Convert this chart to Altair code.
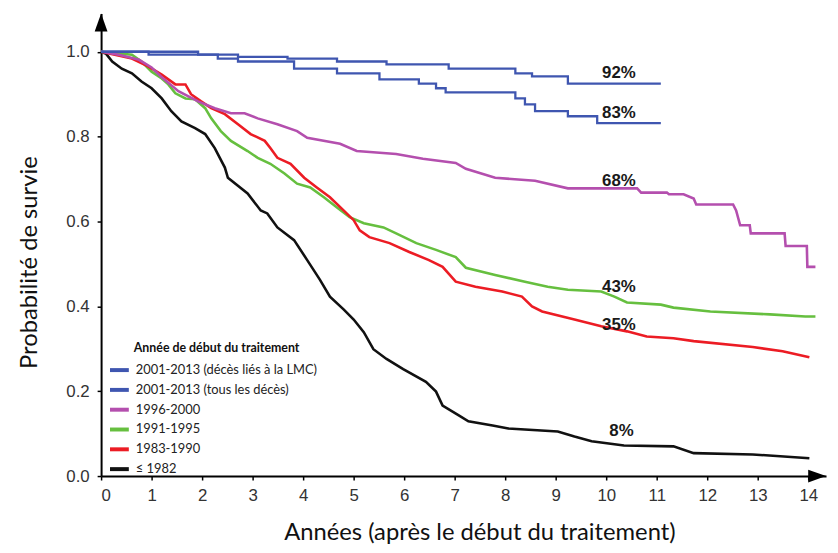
import altair as alt
import pandas as pd

# ---------------- data ----------------
series_names = ["2001-2013 (décès liés à la LMC)", "2001-2013 (tous les décès)",
                "1996-2000", "1991-1995", "1983-1990", "≤ 1982"]
series_colors = ["#3f56b0", "#3f56b0", "#b44fae", "#66bf3f", "#ec1c24", "#111111"]

lmc_years = [0, 1.92, 2.71, 3.69, 4.67, 5.65, 6.88, 8.20, 8.53, 9.24, 11.08]
lmc_surv = [1.000, 0.993, 0.988, 0.984, 0.977, 0.970, 0.960, 0.949, 0.942, 0.925, 0.925]

all_years = [0, 0.94, 2.31, 2.71, 3.82, 4.67, 5.51, 6.29, 6.63, 6.82, 8.20, 8.39, 8.59, 9.24, 9.82, 11.08]
all_surv = [1.000, 0.993, 0.984, 0.977, 0.960, 0.949, 0.935, 0.925, 0.914, 0.904, 0.890, 0.876, 0.860, 0.848, 0.832, 0.832]

p96_years = [0, 0.35, 0.75, 1.00, 1.20, 1.53, 1.92, 2.25, 2.57, 2.84, 3.10, 3.49, 3.88, 4.08, 4.73, 5.06,
             5.84, 6.37, 7.02, 7.22, 7.80, 8.59, 9.24, 10.61, 10.69, 11.20, 11.24, 11.53, 11.73, 11.78,
             12.51, 12.57, 12.65, 12.84, 12.86, 13.53, 13.55, 13.97, 13.98, 14.14]
p96_surv = [1.000, 0.993, 0.981, 0.963, 0.940, 0.907, 0.883, 0.867, 0.855, 0.855, 0.843, 0.829, 0.813, 0.797,
            0.783, 0.766, 0.759, 0.748, 0.738, 0.724, 0.703, 0.696, 0.678, 0.678, 0.668, 0.668, 0.664, 0.664,
            0.654, 0.640, 0.640, 0.626, 0.591, 0.591, 0.572, 0.572, 0.542, 0.542, 0.493, 0.493]

p91_years = [0, 0.61, 0.80, 1.00, 1.20, 1.33, 1.47, 1.67, 1.86, 2.06, 2.18, 2.37, 2.57, 2.90, 3.10, 3.35,
             3.63, 3.88, 4.14, 4.41, 4.67, 4.92, 5.20, 5.59, 5.84, 6.24, 6.63, 7.02, 7.22, 7.80, 8.39,
             8.84, 9.24, 9.90, 10.16, 10.41, 11.08, 11.33, 12.06, 13.24, 13.94, 14.14]
p91_surv = [1.000, 0.993, 0.977, 0.953, 0.937, 0.923, 0.902, 0.890, 0.888, 0.867, 0.843, 0.813, 0.790, 0.766,
            0.750, 0.736, 0.713, 0.689, 0.680, 0.657, 0.633, 0.610, 0.596, 0.586, 0.572, 0.549, 0.533, 0.516,
            0.491, 0.474, 0.458, 0.446, 0.439, 0.435, 0.423, 0.409, 0.404, 0.397, 0.388, 0.381, 0.376, 0.376]

p83_years = [0, 0.61, 0.94, 1.20, 1.47, 1.67, 1.78, 1.98, 2.18, 2.45, 2.71, 2.96, 3.24, 3.35, 3.49, 3.75,
             4.02, 4.27, 4.53, 4.80, 5.00, 5.12, 5.31, 5.71, 6.10, 6.49, 6.76, 7.02, 7.41, 7.94, 8.33,
             8.53, 8.73, 9.37, 9.90, 10.41, 10.80, 11.33, 11.73, 12.90, 13.49, 14.02]
p83_surv = [1.000, 0.984, 0.965, 0.946, 0.923, 0.923, 0.900, 0.883, 0.867, 0.853, 0.829, 0.806, 0.790, 0.773,
            0.750, 0.736, 0.703, 0.680, 0.657, 0.626, 0.603, 0.579, 0.563, 0.549, 0.528, 0.509, 0.493, 0.458,
            0.446, 0.435, 0.423, 0.400, 0.388, 0.369, 0.353, 0.341, 0.329, 0.325, 0.318, 0.304, 0.294, 0.280]

p82_years = [0, 0.10, 0.22, 0.41, 0.61, 0.80, 1.00, 1.20, 1.39, 1.59, 1.86, 2.06, 2.25, 2.45, 2.51, 2.90,
             3.16, 3.29, 3.49, 3.82, 4.08, 4.33, 4.53, 4.80, 5.00, 5.20, 5.39, 5.65, 5.98, 6.43, 6.63, 6.76,
             7.08, 7.27, 7.75, 8.06, 9.04, 9.37, 9.71, 10.35, 11.33, 11.73, 12.90, 14.02]
p82_surv = [1.000, 0.995, 0.977, 0.960, 0.949, 0.930, 0.914, 0.890, 0.860, 0.836, 0.820, 0.806, 0.773, 0.727,
            0.703, 0.666, 0.626, 0.619, 0.586, 0.556, 0.509, 0.463, 0.423, 0.393, 0.369, 0.339, 0.299, 0.276,
            0.252, 0.222, 0.199, 0.166, 0.143, 0.129, 0.119, 0.112, 0.105, 0.093, 0.082, 0.072, 0.070, 0.054,
            0.051, 0.042]

pct_labels = ["92%", "83%", "68%", "43%", "35%", "8%"]
pct_years = [10.25, 10.25, 10.25, 10.25, 10.25, 10.3]
pct_surv = [0.949, 0.855, 0.696, 0.446, 0.357, 0.105]

x_ticks = list(range(0, 15))
y_ticks = [0.0, 0.2, 0.4, 0.6, 0.8, 1.0]
x_max = 14.35
y_max = 1.09

# ---------------- tables ----------------
step_series = [(series_names[0], lmc_years, lmc_surv),
               (series_names[1], all_years, all_surv)]
lin_series = [(series_names[5], p82_years, p82_surv),
              (series_names[3], p91_years, p91_surv),
              (series_names[4], p83_years, p83_surv),
              (series_names[2], p96_years, p96_surv)]


def build(lst):
    rows = []
    for name, xs, ys in lst:
        for i, (a, b) in enumerate(zip(xs, ys)):
            rows.append({"serie": name, "annee": a, "survie": b, "ordre": i})
    return pd.DataFrame(rows)


df_step = build(step_series)
df_lin = build(lin_series)
df_pct = pd.DataFrame({"label": pct_labels, "annee": pct_years, "survie": pct_surv})
df_arrow_y = pd.DataFrame({"annee": [0], "survie": [y_max]})
df_arrow_x = pd.DataFrame({"annee": [x_max], "survie": [0]})

x_scale = alt.Scale(domain=[0, x_max], nice=False, zero=False)
y_scale = alt.Scale(domain=[0, y_max], nice=False, zero=False)
color_scale = alt.Scale(domain=series_names, range=series_colors)

x_enc = alt.X("annee:Q", scale=x_scale,
              axis=alt.Axis(values=x_ticks, format="d", title="Années (après le début du traitement)",
                            titleX=382, titleY=57, titleBaseline="middle", titleAlign="center",
                            labelPadding=8))
y_enc = alt.Y("survie:Q", scale=y_scale,
              axis=alt.Axis(values=y_ticks, format=".1f", title="Probabilité de survie",
                            titleX=-72, titleY=251, titleAngle=-90, titleBaseline="middle",
                            titleAlign="center", labelPadding=8))

legend = alt.Legend(title="Année de début du traitement", orient="none",
                    legendX=33, legendY=332, symbolType="stroke", symbolSize=361,
                    symbolStrokeWidth=4, symbolOffset=alt.ExprRef("-26"),
                    labelOffset=5, labelLimit=400,
                    labelFont="Lato", labelFontSize=13, labelColor="#222",
                    titleFont="Lato", titleFontSize=12.5, titleFontWeight="bold", titleColor="#111",
                    titleLimit=400, rowPadding=0, padding=0, titlePadding=4)

color_enc = alt.Color("serie:N", scale=color_scale, sort=series_names, legend=legend)

lines_lin = alt.Chart(df_lin).mark_line(strokeWidth=2.6).encode(
    x=x_enc, y=y_enc, color=color_enc, order="ordre:Q")
lines_step = alt.Chart(df_step).mark_line(strokeWidth=2.3, interpolate="step-after").encode(
    x=x_enc, y=y_enc, color=color_enc, order="ordre:Q")

pct = alt.Chart(df_pct).mark_text(font="Liberation Sans", fontSize=17, fontWeight="bold",
                                  color="#1a1a1a", baseline="middle", align="center").encode(
    x="annee:Q", y="survie:Q", text="label:N")

arrow_y = alt.Chart(df_arrow_y).mark_point(
    shape="M0,0 L-0.36,1 L0.36,1 Z", size=1296, filled=True, color="black", opacity=1).encode(
    x="annee:Q", y="survie:Q")
arrow_x = alt.Chart(df_arrow_x).mark_point(
    shape="M0,0 L-1,-0.36 L-1,0.36 Z", size=1296, filled=True, color="black", opacity=1).encode(
    x="annee:Q", y="survie:Q")

chart = alt.layer(lines_lin, lines_step, pct, arrow_y, arrow_x).properties(
    width=732, height=467,
    autosize=alt.AutoSizeParams(type="none"),
    padding={"left": 94, "top": 3, "right": 4, "bottom": 67},
).configure_view(stroke=None).configure_axis(
    grid=False, domainColor="black", domainWidth=2, tickColor="black", tickSize=4, tickWidth=1.5,
    labelFont="Liberation Sans", labelFontSize=17, labelColor="#333",
    titleFont="Lato", titleFontSize=24, titleFontWeight="normal", titleColor="#111",
)

chart.save("out.html", embed_options={"renderer": "svg", "actions": False})
